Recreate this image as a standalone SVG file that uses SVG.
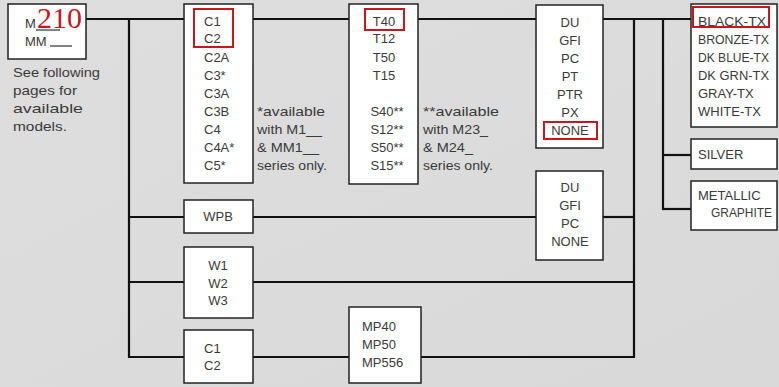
<svg xmlns="http://www.w3.org/2000/svg" width="779" height="387" viewBox="0 0 779 387">
<defs>
<linearGradient id="bg" x1="0" y1="0" x2="1" y2="1">
<stop offset="0" stop-color="#dedede"/>
<stop offset="1" stop-color="#d9d9d9"/>
</linearGradient>
</defs>
<style>
.box{fill:#fff;stroke:#222;stroke-width:1.5}
.hl{fill:none;stroke:#c8161d;stroke-width:2}
.t{font-family:"Liberation Sans",Arial,sans-serif;font-size:13px;fill:#3a3a3a}
.m{text-anchor:middle}
.c line{stroke:#111;stroke-width:2.2}
</style>
<rect x="0" y="0" width="779" height="387" fill="url(#bg)"/>

<g class="c" id="connectors">
<line x1="86" y1="19" x2="184" y2="19"/>
<line x1="253" y1="19" x2="349" y2="19"/>
<line x1="418" y1="19" x2="536" y2="19"/>
<line x1="603" y1="19" x2="691" y2="19"/>
<line x1="129" y1="18" x2="129" y2="358"/>
<line x1="128" y1="217" x2="184" y2="217"/>
<line x1="128" y1="282" x2="184" y2="282"/>
<line x1="128" y1="357" x2="184" y2="357"/>
<line x1="253" y1="217" x2="536" y2="217"/>
<line x1="603" y1="217" x2="634" y2="217"/>
<line x1="253" y1="282" x2="634" y2="282"/>
<line x1="253" y1="357" x2="349" y2="357"/>
<line x1="421" y1="357" x2="635" y2="357"/>
<line x1="634" y1="18" x2="634" y2="358"/>
<line x1="663" y1="18" x2="663" y2="210"/>
<line x1="662" y1="155" x2="691" y2="155"/>
<line x1="662" y1="209" x2="691" y2="209"/>
</g>

<g id="model">
<rect class="box" x="8" y="4" width="78" height="55"/>
<text class="t" x="25" y="28" font-size="12">M</text>
<line x1="36" y1="30" x2="60" y2="30" stroke="#333" stroke-width="1.2"/>
<text x="37" y="28" font-family="Liberation Serif,Times New Roman,serif" font-size="30" fill="#c8161d">210</text>
<text class="t" x="25" y="46" font-size="12">MM</text>
<line x1="50" y1="46" x2="72" y2="46" stroke="#333" stroke-width="1.2"/>
</g>

<g id="note-models">
<text class="t" x="13" y="77" textLength="87" lengthAdjust="spacingAndGlyphs">See following</text>
<text class="t" x="13" y="95" textLength="64" lengthAdjust="spacingAndGlyphs">pages for</text>
<text class="t" x="13" y="113" textLength="70" lengthAdjust="spacingAndGlyphs">available</text>
<text class="t" x="13" y="131" textLength="54" lengthAdjust="spacingAndGlyphs">models.</text>
</g>

<g id="c-list">
<rect class="box" x="184" y="4" width="69" height="179"/>
<rect class="hl" x="194" y="9" width="39" height="38"/>
<text class="t" x="204" y="26">C1</text>
<text class="t" x="204" y="43">C2</text>
<text class="t" x="204" y="62">C2A</text>
<text class="t" x="204" y="80">C3*</text>
<text class="t" x="204" y="98">C3A</text>
<text class="t" x="204" y="116">C3B</text>
<text class="t" x="204" y="134">C4</text>
<text class="t" x="204" y="152">C4A*</text>
<text class="t" x="204" y="170">C5*</text>
</g>

<g id="note-c">
<text class="t" x="257" y="116" textLength="68" lengthAdjust="spacingAndGlyphs">*available</text>
<text class="t" x="257" y="134" textLength="65" lengthAdjust="spacingAndGlyphs">with M1__</text>
<text class="t" x="257" y="152" textLength="62" lengthAdjust="spacingAndGlyphs">&amp; MM1__</text>
<text class="t" x="257" y="170" textLength="70" lengthAdjust="spacingAndGlyphs">series only.</text>
</g>

<g id="t-list">
<rect class="box" x="349" y="4" width="69" height="180"/>
<rect class="hl" x="365" y="9" width="39" height="21"/>
<text class="t m" x="384" y="26">T40</text>
<text class="t m" x="384" y="43">T12</text>
<text class="t m" x="384" y="62">T50</text>
<text class="t m" x="384" y="80">T15</text>
<text class="t m" x="387" y="116">S40**</text>
<text class="t m" x="387" y="134">S12**</text>
<text class="t m" x="387" y="152">S50**</text>
<text class="t m" x="387" y="170">S15**</text>
</g>

<g id="note-t">
<text class="t" x="423" y="116" textLength="76" lengthAdjust="spacingAndGlyphs">**available</text>
<text class="t" x="423" y="134" textLength="65" lengthAdjust="spacingAndGlyphs">with M23_</text>
<text class="t" x="423" y="152" textLength="50" lengthAdjust="spacingAndGlyphs">&amp; M24_</text>
<text class="t" x="423" y="170" textLength="70" lengthAdjust="spacingAndGlyphs">series only.</text>
</g>

<g id="du-list">
<rect class="box" x="536" y="5" width="67" height="143"/>
<rect class="hl" x="544" y="122" width="53" height="17"/>
<text class="t m" x="570" y="27">DU</text>
<text class="t m" x="570" y="45">GFI</text>
<text class="t m" x="570" y="63">PC</text>
<text class="t m" x="570" y="81">PT</text>
<text class="t m" x="570" y="99">PTR</text>
<text class="t m" x="570" y="117">PX</text>
<text class="t m" x="570" y="135">NONE</text>
</g>

<g id="colors">
<rect class="box" x="691" y="4" width="86" height="123"/>
<rect class="hl" x="693" y="7" width="76" height="20"/>
<text class="t" x="698" y="26" textLength="68" lengthAdjust="spacingAndGlyphs">BLACK-TX</text>
<text class="t" x="698" y="44" textLength="71" lengthAdjust="spacingAndGlyphs">BRONZE-TX</text>
<text class="t" x="698" y="62" textLength="71" lengthAdjust="spacingAndGlyphs">DK BLUE-TX</text>
<text class="t" x="698" y="80" textLength="71" lengthAdjust="spacingAndGlyphs">DK GRN-TX</text>
<text class="t" x="698" y="98">GRAY-TX</text>
<text class="t" x="698" y="116">WHITE-TX</text>
</g>

<g id="silver">
<rect class="box" x="691" y="139" width="86" height="30"/>
<text class="t" x="698" y="159">SILVER</text>
</g>

<g id="metallic">
<rect class="box" x="691" y="181" width="86" height="49"/>
<text class="t" x="698" y="200">METALLIC</text>
<text class="t" x="711" y="217" textLength="61" lengthAdjust="spacingAndGlyphs">GRAPHITE</text>
</g>

<g id="wpb">
<rect class="box" x="184" y="200" width="69" height="33"/>
<text class="t m" x="218" y="221">WPB</text>
</g>

<g id="du-list-2">
<rect class="box" x="536" y="171" width="67" height="89"/>
<text class="t m" x="570" y="192">DU</text>
<text class="t m" x="570" y="210">GFI</text>
<text class="t m" x="570" y="228">PC</text>
<text class="t m" x="570" y="246">NONE</text>
</g>

<g id="w-list">
<rect class="box" x="184" y="247" width="69" height="71"/>
<text class="t m" x="218" y="270">W1</text>
<text class="t m" x="218" y="288">W2</text>
<text class="t m" x="218" y="305">W3</text>
</g>

<g id="c-list-2">
<rect class="box" x="184" y="330" width="69" height="53"/>
<text class="t" x="204" y="353">C1</text>
<text class="t" x="204" y="370">C2</text>
</g>

<g id="mp-list">
<rect class="box" x="349" y="307" width="72" height="76"/>
<text class="t" x="362" y="331">MP40</text>
<text class="t" x="362" y="349">MP50</text>
<text class="t" x="362" y="367">MP556</text>
</g>
</svg>
